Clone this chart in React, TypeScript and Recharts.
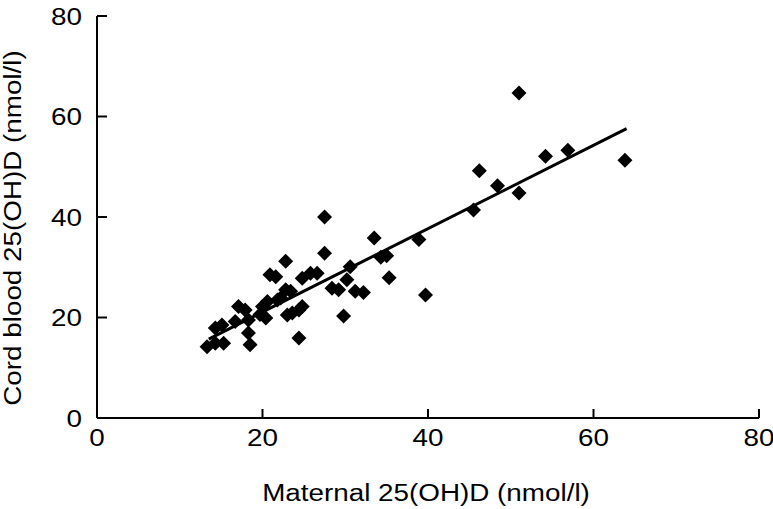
import React from 'react';
import { ScatterChart, Scatter, XAxis, YAxis, Label } from 'recharts';

const maternal = [51.0, 63.8, 56.9, 54.2, 46.2, 48.4, 45.5, 51.0, 27.5, 38.9, 33.5, 34.3, 35.0, 35.3, 39.7, 31.2, 32.2, 30.6, 30.2, 29.8, 27.5, 26.6, 25.8, 24.8, 28.4, 29.2, 24.4, 22.8, 20.9, 21.6, 22.8, 23.4, 22.2, 20.6, 21.8, 19.7, 20.4, 23.0, 23.6, 24.4, 24.8, 17.1, 17.9, 16.7, 18.3, 18.3, 18.5, 14.3, 15.1, 13.3, 14.3, 15.3, 20.0];
const cord = [64.7, 51.3, 53.3, 52.1, 49.2, 46.2, 41.4, 44.8, 40.0, 35.5, 35.8, 32.0, 32.3, 27.9, 24.5, 25.2, 25.0, 30.1, 27.5, 20.3, 32.8, 28.8, 28.8, 27.8, 25.8, 25.5, 15.9, 31.2, 28.5, 28.1, 25.5, 25.2, 23.9, 23.2, 23.5, 20.6, 19.9, 20.5, 20.9, 21.5, 22.2, 22.2, 21.5, 19.2, 19.5, 16.9, 14.6, 17.9, 18.5, 14.2, 14.9, 14.9, 22.2];
const fitX = [13.5, 64];
const fitY = [15.7, 57.6];
const axisTicks = [0, 20, 40, 60, 80];
const xTitle = 'Maternal 25(OH)D (nmol/l)';
const yTitle = 'Cord blood 25(OH)D (nmol/l)';

const points = maternal.map((x, i) => ({ x, y: cord[i] }));
const fitLine = fitX.map((x, i) => ({ x, y: fitY[i] }));

const FONT = 'Liberation Sans, Arial, sans-serif';
const FS = 23;
const STRETCH = 1.21;

const Diamond = (props: any) => {
  const { cx, cy } = props;
  const r = 7.5;
  return (
    <polygon
      points={`${cx},${cy - r} ${cx + r},${cy} ${cx},${cy + r} ${cx - r},${cy}`}
      fill="#000"
    />
  );
};

const WideText = ({ x, y, anchor, rotate, children }: any) => (
  <text
    x={0}
    y={0}
    transform={`translate(${x}, ${y})${rotate ? ` rotate(${rotate})` : ''} scale(${STRETCH}, 1)`}
    textAnchor={anchor}
    fontSize={FS}
    fontFamily={FONT}
    fill="#000"
  >
    {children}
  </text>
);

const XTick = (props: any) => {
  const { x, y, payload } = props;
  return (
    <g>
      <line x1={x} y1={y} x2={x} y2={y - 9} stroke="#000" strokeWidth={2} />
      <WideText x={x} y={y + 28} anchor="middle">{payload.value}</WideText>
    </g>
  );
};

const YTick = (props: any) => {
  const { x, y, payload } = props;
  return (
    <g>
      <line x1={x} y1={y} x2={x + 10} y2={y} stroke="#000" strokeWidth={2} />
      <WideText x={x - 15} y={y + 8.5} anchor="end">{payload.value}</WideText>
    </g>
  );
};

export default function App() {
  return (
    <div style={{ position: 'absolute', left: 0, top: 0, width: 773, height: 509 }}>
      <ScatterChart width={773} height={509} margin={{ top: 16, right: 14, bottom: 0, left: 0 }}>
        <XAxis
          type="number"
          dataKey="x"
          domain={[0, 80]}
          ticks={axisTicks}
          height={91}
          tickSize={0}
          tickMargin={0}
          tickLine={false}
          tick={<XTick />}
          axisLine={{ stroke: '#000', strokeWidth: 2 }}
          allowDataOverflow
        >
          <Label
            content={(p: any) => {
              const vb = p.viewBox;
              return <WideText x={vb.x + vb.width / 2 - 2} y={vb.y + 83} anchor="middle">{xTitle}</WideText>;
            }}
          />
        </XAxis>
        <YAxis
          type="number"
          dataKey="y"
          domain={[0, 80]}
          ticks={axisTicks}
          width={97}
          tickSize={0}
          tickMargin={0}
          tickLine={false}
          tick={<YTick />}
          axisLine={{ stroke: '#000', strokeWidth: 2 }}
          allowDataOverflow
        >
          <Label
            content={(p: any) => {
              const vb = p.viewBox;
              return <WideText x={20.5} y={vb.y + vb.height / 2 + 11} anchor="middle" rotate={-90}>{yTitle}</WideText>;
            }}
          />
        </YAxis>
        <Scatter data={fitLine} line={{ stroke: '#000', strokeWidth: 3 }} shape={() => <g />} isAnimationActive={false} />
        <Scatter data={points} shape={<Diamond />} isAnimationActive={false} />
      </ScatterChart>
    </div>
  );
}
